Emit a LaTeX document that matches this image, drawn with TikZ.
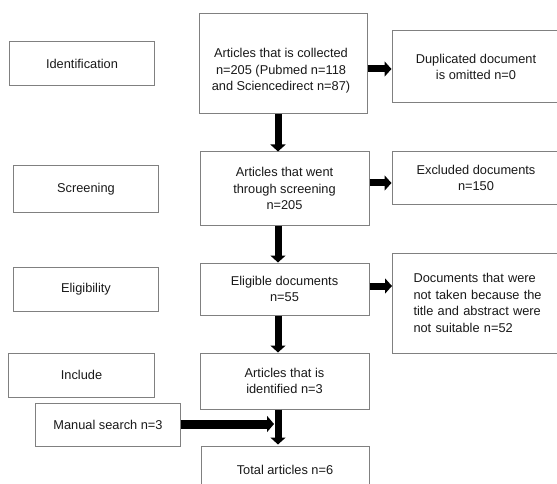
\documentclass[tikz,border=0pt]{standalone}
\usepackage{fontspec}
\setmainfont{Liberation Sans}
\usetikzlibrary{arrows.meta}
\tikzset{
  box/.style={draw=black!50, line width=1bp, fill=white, align=center, inner sep=0pt, text=black!90,
    font=\fontsize{12.8bp}{16.5bp}\selectfont},
  plain/.style={align=center, inner sep=0pt, text=black!90, font=\fontsize{12.8bp}{16.5bp}\selectfont},
  bigarrow/.style={line width=7bp, -{Triangle[length=7bp,width=15bp]}, black}
}
\begin{document}
\begin{tikzpicture}[x=1bp,y=-1bp]
\clip (0,0) rectangle (557,484);
\fill[white] (0,0) rectangle (557,484);
% left column
\node[box, minimum width=144bp, minimum height=44bp] (id) at (82,64) {Identification};
\node[box, minimum width=144bp, minimum height=46bp] (scr) at (86,189) {Screening};
\node[box, minimum width=144bp, minimum height=44bp] (eli) at (86,289) {Eligibility};
\node[box, minimum width=145bp, minimum height=44bp] (inc) at (81.5,375) {Include};
\node[box, minimum width=144bp, minimum height=43bp] (man) at (108,424.5) {Manual search n=3};
% centre column
\node[box, minimum width=168bp, minimum height=100bp] (b1) at (283,64) {};
\node[plain] (b1t) at (281,71) {Articles that is collected\\n=205 (Pubmed n=118\\and Sciencedirect n=87)};
\node[box, minimum width=169bp, minimum height=73bp] (b2) at (284.5,188.5) {Articles that went\\through screening\\n=205};
\node[box, minimum width=169bp, minimum height=52bp] (b3) at (284.5,289) {Eligible documents\\n=55};
\node[box, minimum width=169bp, minimum height=56bp] (b4) at (284.5,381) {Articles that is\\identified n=3};
\node[box, minimum width=168bp, minimum height=48bp] (b5) at (285,470) {Total articles n=6};
% right column
\node[box, minimum width=168bp, minimum height=72bp] (dup) at (476,67) {Duplicated document\\is omitted n=0};
\node[box, minimum width=168bp, minimum height=52bp] (exc) at (476,178) {Excluded documents\\n=150};
\node[box, align=left, text width=150bp, inner xsep=21bp, minimum height=100bp, anchor=west] (doc) at (392,303)
  {Documents that were\\not taken because the\\title and abstract were\\not suitable n=52};
% arrows
\coordinate (ax) at (278,0);
\draw[bigarrow] (b1.south -| ax) -- (b2.north -| ax);
\draw[bigarrow] (b2.south -| ax) -- (b3.north -| ax);
\draw[bigarrow] (b3.south -| ax) -- (b4.north -| ax);
\draw[bigarrow] (b4.south -| ax) -- ([yshift=1bp]b5.north -| ax);
\draw[bigarrow] (b1.east |- 0,69) -- (dup.west |- 0,69);
\draw[bigarrow] (b2.east |- 0,183) -- (exc.west |- 0,183);
\draw[bigarrow] (b3.east |- 0,286) -- (doc.west |- 0,286);
\coordinate (mt) at (274,424);
\draw[bigarrow, line width=9bp, -{Triangle[length=7bp,width=16bp]}] (man.east |- mt) -- (mt);
\end{tikzpicture}
\end{document}
